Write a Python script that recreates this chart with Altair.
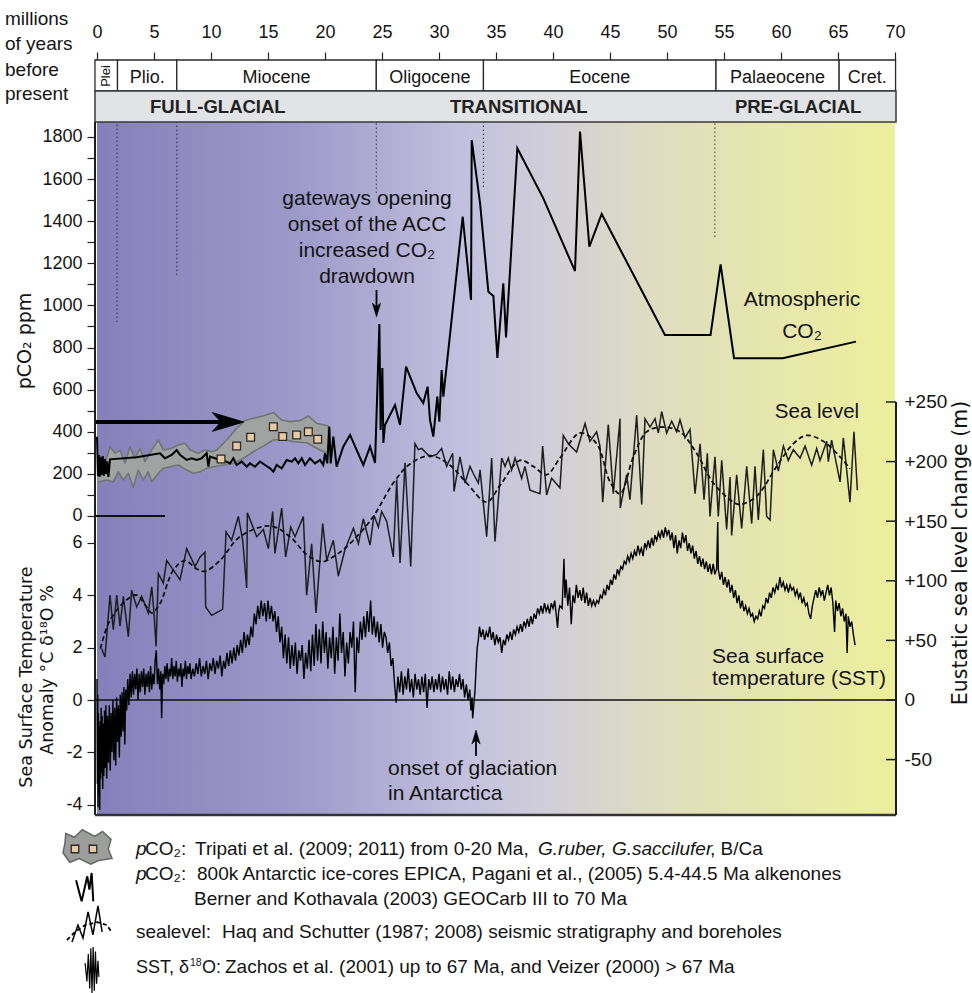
import altair as alt
import pandas as pd

# ---------------------------------------------------------------- data
x_ticks = list(range(0, 75, 5))
co2_ticks = list(range(0, 1900, 100))
sst_ticks = [-4, -2, 0, 2, 4, 6]
sl_ticks = [-50, 0, 50, 100, 150, 200, 250]

epoch_names = ["Plei", "Plio.", "Miocene", "Oligocene", "Eocene", "Palaeocene", "Cret."]
epoch_start = [-0.18, 1.8, 7.0, 24.5, 33.9, 54.3, 65.1]
epoch_end = [1.8, 7.0, 24.5, 33.9, 54.3, 65.1, 70.05]

phase_names = ["FULL-GLACIAL", "TRANSITIONAL", "PRE-GLACIAL"]
phase_mid = [10.6, 37.0, 61.5]

boundary_ma = [1.75, 7.0, 24.5, 33.9, 54.2]
boundary_end_ppm = [921, 1144, 1534, 1562, 1325]

co2_ma = [0.0, 0.08, 0.16, 0.24, 0.32, 0.40, 0.50, 0.60, 0.70, 0.80,
          0.90, 1.00, 1.14, 3.48, 5.53, 5.96, 6.55, 6.99, 7.28, 7.87,
          8.30, 8.74, 9.18, 9.62, 9.77, 9.91, 10.35, 10.79, 11.37, 11.67,
          11.96, 12.25, 12.69, 13.13, 13.42, 13.86, 14.30, 14.74, 15.18, 15.47,
          15.76, 16.20, 16.64, 17.08, 17.37, 17.66, 17.96, 18.25, 18.68, 19.12,
          19.56, 19.85, 20.00, 20.20, 20.38, 20.50, 20.73, 21.02, 21.60, 22.20,
          22.78, 23.36, 23.95, 24.39, 24.77, 24.88, 25.03, 25.12, 25.26, 26.14,
          26.58, 27.11, 28.04, 28.62, 29.00, 29.21, 29.50, 29.85, 30.03, 30.23,
          30.38, 32.08, 32.81, 32.87, 33.60, 34.33, 34.77, 35.12, 35.64, 35.88,
          36.87, 39.15, 41.93, 42.37, 43.19, 44.27, 49.82, 53.82, 54.70, 55.88,
          60.15, 66.58]
co2_ppm = [376, 190, 290, 185, 280, 195, 285, 190, 270, 200,
           260, 185, 269, 279, 298, 274, 290, 313, 290, 266,
           274, 266, 274, 298, 234, 282, 274, 266, 258, 250,
           274, 242, 258, 234, 250, 234, 258, 242, 226, 210,
           242, 226, 266, 258, 274, 250, 274, 242, 274, 250,
           266, 242, 298, 250, 424, 250, 377, 234, 329, 385,
           313, 242, 329, 252, 912, 408, 703, 347, 432, 527,
           432, 709, 584, 536, 614, 456, 377, 567, 448, 693,
           567, 1421, 1026, 1785, 1486, 1065, 1045, 751, 1105, 848,
           1746, 1508, 1163, 1825, 1279, 1434, 859, 859, 1195, 749,
           749, 828]

# Tripati et al. envelope (upper edge left->right, lower edge right->left)
tripati_ma = [0.12, 0.70, 1.14, 1.58, 2.02, 2.46, 2.89, 3.33, 3.77, 4.21,
              4.80, 5.38, 5.82, 6.55, 7.13, 7.72, 8.16, 8.89, 9.47, 10.06,
              10.50, 11.37, 12.25, 12.98, 13.71, 14.59, 15.47, 16.20, 16.93, 17.81,
              18.54, 19.27, 20.29,
              20.29, 19.56, 18.39, 17.22, 16.35, 15.47, 14.59, 13.71, 12.84, 11.96,
              11.08, 10.20, 9.62, 9.04, 8.45, 7.87, 7.13, 6.40, 5.82, 5.38,
              4.80, 4.50, 4.06, 3.62, 3.18, 2.75, 2.31, 1.87, 1.43, 0.85,
              0.12]
tripati_ppm = [234, 250, 329, 298, 313, 250, 329, 274, 321, 258,
               313, 361, 313, 321, 337, 345, 313, 298, 313, 305,
               313, 361, 416, 453, 464, 475, 491, 456, 448, 453,
               475, 440, 427,
               298, 313, 348, 353, 364, 361, 332, 305, 274, 250,
               242, 234, 226, 210, 203, 218, 242, 234, 226, 203,
               163, 210, 171, 218, 136, 203, 171, 210, 163, 171,
               163]
tripati_pt_ma = [10.88, 12.25, 13.48, 15.47, 16.29, 17.51, 18.54, 19.36]
tripati_pt_ppm = [271, 332, 374, 424, 377, 385, 400, 364]

sl_ma = [0.41, 0.70, 1.14, 1.43, 1.73, 2.02, 2.31, 2.75, 3.04, 3.48,
         3.92, 4.50, 4.80, 5.00, 5.18, 5.38, 5.82, 6.11, 6.70, 7.28,
         7.87, 8.60, 9.04, 9.47, 9.53, 10.06, 11.02, 11.32, 11.81, 12.40,
         12.78, 13.13, 13.19, 14.01, 14.59, 15.03, 15.41, 15.61, 16.20, 16.55,
         16.99, 17.37, 18.10, 18.39, 18.83, 19.21, 19.80, 20.15, 20.73, 21.17,
         21.75, 22.49, 22.93, 23.36, 23.95, 24.30, 24.68, 24.97, 25.41, 25.99,
         26.29, 26.58, 27.02, 27.52, 27.89, 28.19, 28.48, 29.21, 29.80, 30.23,
         30.67, 31.20, 31.32, 31.84, 32.28, 32.72, 33.01, 33.45, 33.60, 34.18,
         34.62, 34.91, 35.50, 35.79, 36.08, 36.37, 36.67, 37.25, 37.54, 37.98,
         38.86, 39.09, 39.44, 39.88, 40.61, 40.90, 41.34, 42.07, 42.81, 43.24,
         43.83, 44.12, 44.36, 44.85, 45.29, 45.88, 45.90, 46.46, 46.75, 47.34,
         47.78, 48.07, 48.51, 48.95, 49.24, 49.53, 49.97, 50.41, 50.85, 51.14,
         51.58, 52.02, 52.46, 52.90, 53.25, 53.54, 53.77, 54.21, 54.50, 54.80,
         55.23, 55.53, 55.67, 56.11, 56.55, 56.99, 57.43, 57.72, 58.01, 58.45,
         58.74, 59.04, 59.33, 59.77, 60.21, 60.64, 61.08, 61.67, 62.11, 62.69,
         63.13, 63.42, 64.01, 64.15, 64.44, 65.18, 65.47, 66.05, 66.40, 66.70]
sl_m = [43, 36, 88, 59, 88, 62, 87, 53, 92, 78,
        87, 73, 95, 73, 45, 106, 98, 117, 109, 101,
        127, 112, 120, 124, 78, 71, 76, 141, 134, 154,
        134, 94, 157, 137, 143, 127, 158, 123, 161, 120,
        145, 137, 154, 88, 131, 73, 148, 117, 134, 104,
        126, 144, 131, 152, 130, 155, 145, 158, 150, 120,
        185, 115, 199, 112, 215, 210, 211, 204, 206, 211,
        196, 207, 175, 204, 182, 196, 190, 182, 193, 137,
        203, 133, 203, 196, 203, 193, 203, 186, 196, 176,
        173, 213, 172, 186, 178, 222, 215, 208, 232, 217,
        225, 213, 166, 231, 173, 236, 161, 189, 168, 239,
        164, 236, 229, 236, 224, 242, 224, 234, 225, 235,
        220, 227, 173, 215, 168, 207, 154, 204, 154, 201,
        143, 187, 138, 189, 144, 196, 148, 196, 151, 210,
        154, 151, 210, 192, 213, 201, 210, 203, 213, 197,
        211, 201, 217, 200, 218, 183, 220, 166, 225, 176]

sl_trend_ma = [0.30, 1.14, 2.60, 3.48, 4.36, 4.80, 5.53, 6.70, 7.72, 8.74,
               9.47, 10.79, 12.54, 15.18, 16.93, 18.39, 19.71, 21.02, 22.49, 24.24,
               25.99, 27.46, 29.21, 30.96, 32.43, 34.18, 35.35, 37.10, 38.27, 39.44,
               40.61, 42.37, 43.83, 45.00, 45.88, 47.05, 48.22, 49.68, 51.14, 52.60,
               54.06, 55.82, 56.40, 57.87, 59.62, 61.08, 62.25, 63.71, 65.18, 66.05]
sl_trend_m = [43, 67, 84, 88, 78, 73, 81, 109, 117, 110,
              108, 117, 137, 146, 137, 122, 116, 122, 134, 154,
              182, 198, 205, 197, 182, 166, 180, 201, 196, 189,
              203, 224, 215, 183, 173, 204, 225, 229, 225, 207,
              182, 166, 164, 171, 196, 215, 222, 217, 204, 194]

sst_ma = [
    0.00, 0.03, 0.06, 0.09, 0.12, 0.16, 0.20, 0.24, 0.28, 0.32,
    0.36, 0.40, 0.45, 0.50, 0.55, 0.60, 0.66, 0.72, 0.78, 0.85,
    0.92, 1.00, 1.08, 1.16, 1.24, 1.32, 1.40, 1.48, 1.56, 1.64,
    1.72, 1.80, 1.88, 1.96, 2.04, 2.12, 2.20, 2.28, 2.36, 2.44,
    2.52, 2.60, 2.70, 2.80, 2.90, 3.00, 3.10, 3.20, 3.30, 3.40,
    3.50, 3.60, 3.70, 3.80, 3.90, 4.00, 4.10, 4.20, 4.30, 4.40,
    4.50, 4.60, 4.70, 4.80, 4.90, 5.00, 5.10, 5.20, 5.30, 5.40,
    5.50, 5.60, 5.67, 5.75, 5.85, 5.95, 6.05, 6.15, 6.25, 6.35,
    6.45, 6.55, 6.65, 6.75, 6.85, 6.95, 7.05, 7.15, 7.25, 7.35,
    7.45, 7.55, 7.65, 7.75, 7.85, 7.95, 8.05, 8.15, 8.25, 8.40,
    8.55, 8.70, 8.85, 9.00, 9.15, 9.30, 9.45, 9.60, 9.75, 9.90,
    10.05, 10.20, 10.35, 10.50, 10.65, 10.80, 10.95, 11.10, 11.25, 11.40,
    11.55, 11.70, 11.85, 12.00, 12.15, 12.30, 12.45, 12.60, 12.75, 12.90,
    13.05, 13.20, 13.35, 13.50, 13.65, 13.80, 13.95, 14.10, 14.25, 14.40,
    14.55, 14.70, 14.85, 15.00, 15.15, 15.30, 15.45, 15.60, 15.75, 15.90,
    16.05, 16.20, 16.35, 16.50, 16.65, 16.80, 16.95,
    17.10, 17.25, 17.40, 17.55, 17.70, 17.85, 18.00, 18.15, 18.30, 18.45,
    18.60, 18.75, 18.90, 19.05, 19.20, 19.35, 19.50, 19.65, 19.80, 19.95,
    20.10, 20.25, 20.40, 20.55, 20.70, 20.85, 21.00, 21.15, 21.30, 21.45,
    21.60, 21.75, 21.90, 22.05, 22.20, 22.35, 22.50, 22.65, 22.80, 22.95,
    23.10, 23.25, 23.40, 23.55, 23.70, 23.85, 24.00, 24.15, 24.30, 24.45,
    24.60, 24.75, 24.90, 25.05, 25.20, 25.35, 25.50, 25.65, 25.80, 25.95,
    26.10, 26.25, 26.40, 26.55, 26.70, 26.85, 27.00, 27.15, 27.30, 27.45,
    27.60, 27.75, 27.90, 28.05, 28.20, 28.35, 28.50, 28.65, 28.80, 28.95,
    29.10, 29.25, 29.40, 29.55, 29.70, 29.85, 30.00, 30.15, 30.30, 30.45,
    30.60, 30.75, 30.90, 31.05, 31.20, 31.35, 31.50, 31.65, 31.80, 31.95,
    32.10, 32.25, 32.40, 32.55, 32.70, 32.80, 32.90, 32.95, 33.05, 33.15,
    33.25, 33.35, 33.45, 33.55,
    33.70, 33.85, 34.00, 34.15, 34.30, 34.45, 34.60, 34.75, 34.90, 35.05,
    35.20, 35.35, 35.50, 35.65, 35.80, 35.95, 36.10, 36.25, 36.40, 36.55,
    36.70, 36.85, 37.00, 37.15, 37.30, 37.45, 37.60, 37.75, 37.90, 38.05,
    38.20, 38.35, 38.50, 38.65, 38.80, 38.95, 39.10, 39.25, 39.40, 39.55,
    39.70, 39.85, 40.00, 40.15, 40.30, 40.40, 40.50, 40.60, 40.80, 40.96,
    41.05, 41.15, 41.30, 41.45, 41.60, 41.75, 41.90, 42.05, 42.20, 42.35,
    42.50, 42.65, 42.80, 42.95, 43.10, 43.25, 43.40, 43.55, 43.70, 43.85,
    44.00, 44.15, 44.30, 44.45, 44.60, 44.75, 44.90, 45.05, 45.20, 45.35,
    45.50, 45.65, 45.80, 45.95, 46.10, 46.25, 46.40, 46.55, 46.70, 46.85,
    47.00, 47.15, 47.30, 47.45, 47.60, 47.75, 47.90,
    48.05, 48.20, 48.35, 48.50, 48.65, 48.80, 48.95, 49.10, 49.25, 49.40,
    49.55, 49.70, 49.85, 50.00, 50.15, 50.30, 50.45, 50.60, 50.75, 50.90,
    51.05, 51.20, 51.35, 51.50, 51.65, 51.80, 51.95, 52.10, 52.25, 52.40,
    52.55, 52.70, 52.85, 53.00, 53.15, 53.30, 53.45, 53.60, 53.75, 53.90,
    54.05, 54.20, 54.35, 54.45, 54.50, 54.65, 54.80, 54.95,
    55.10, 55.25, 55.40, 55.55, 55.70, 55.85, 56.00, 56.15, 56.30, 56.45,
    56.60, 56.75, 56.90, 57.05, 57.20, 57.35, 57.50, 57.65, 57.80, 57.95,
    58.10, 58.25, 58.40, 58.55, 58.70, 58.85, 59.00, 59.15, 59.30, 59.45,
    59.60, 59.75, 59.90, 60.05, 60.20, 60.35, 60.50, 60.65, 60.80, 60.95,
    61.10, 61.25, 61.40, 61.55, 61.70, 61.85, 62.00, 62.15, 62.30, 62.45,
    62.60, 62.75, 62.90, 63.05, 63.20, 63.35, 63.50, 63.65, 63.80, 63.95,
    64.10, 64.25, 64.40, 64.55, 64.70, 64.80, 64.95, 65.10, 65.25, 65.40,
    65.55, 65.70, 65.80, 65.90, 66.05, 66.20, 66.35, 66.50]
sst_c = [
    0.8, -3.2, 0.2, -4.1, -0.5, -3.6, -1.0, -4.2, -0.8, -3.0,
    -0.3, -2.8, -0.6, -3.4, -0.9, -2.9, -0.4, -2.6, -0.2, -3.0,
    -0.6, -2.4, -0.2, -2.7, -0.5, -2.0, 0.0, -2.3, -0.3, -2.5,
    0.1, -1.6, -0.2, -2.2, 0.2, -1.4, 0.3, -1.2, 0.5, -1.7,
    0.4, -0.4, 0.8, -0.2, 1.0, 0.1, 1.1, 0.2, 1.0, 0.4,
    1.2, 0.0, 1.0, 0.3, 1.1, 0.5, 1.2, 0.2, 1.0, 0.5,
    1.1, 0.3, 1.3, 0.4, 1.0, 0.6, 1.5, 1.9, 0.6, 1.2,
    0.4, 1.1, -0.7, 1.0, 0.6, 1.3, 0.8, 1.4, 0.7, 1.2,
    0.9, 1.6, 0.8, 1.3, 0.9, 1.5, 0.7, 1.2, 0.9, 1.4,
    0.5, 1.2, 0.9, 1.5, 0.8, 1.3, 1.0, 1.4, 0.8, 1.2,
    0.9, 1.4, 1.0, 1.6, 0.9, 1.3, 1.0, 1.5, 0.8, 1.4,
    1.1, 1.6, 1.0, 1.5, 1.2, 1.7, 0.9, 1.5, 1.2, 1.8,
    1.3, 1.9, 1.4, 2.0, 1.5, 2.1, 1.7, 2.3, 1.8, 2.6,
    2.0, 2.5, 2.1, 2.8, 2.4, 3.3, 2.9, 3.6, 3.1, 3.8,
    3.2, 3.7, 3.0, 3.8, 3.1, 3.6, 3.0, 3.4, 2.6, 3.2,
    2.2, 2.8, 1.6, 2.5, 1.4, 2.4, 1.2,
    2.1, 1.3, 2.2, 1.0, 1.9, 1.5, 2.1, 0.8, 1.8, 1.2,
    2.3, 1.1, 2.5, 1.3, 2.9, 1.5, 2.7, 1.4, 3.0, 1.8,
    2.6, 1.2, 2.4, 1.6, 2.8, 1.0, 2.4, 1.5, 3.3, 1.8,
    2.6, 0.9, 2.2, 1.4, 2.6, 2.0, 3.0, 0.3, 2.4, 1.8,
    3.0, 2.3, 3.2, 2.4, 3.4, 2.6, 3.8, 2.5, 3.2, 2.4,
    3.0, 2.2, 2.9, 2.0, 2.6, 2.4, 1.8, 2.2, 1.3, 1.6,
    0.6, -0.1, 0.9, 0.3, 1.1, 0.2, 0.9, 0.4, 1.2, 0.3,
    0.8, 0.1, 1.0, 0.4, 0.8, 0.2, 0.9, 0.3, 1.0, -0.3,
    0.8, 0.4, 0.9, 0.3, 0.8, 0.4, 1.0, 0.3, 0.9, 0.4,
    0.8, 0.2, 1.1, 0.4, 0.9, 0.3, 0.8, 0.5, 1.0, 0.4,
    0.8, 0.1, 0.6, 0.0, 0.4, -0.4, 0.1, -0.7, -0.2, 0.3,
    1.2, 2.0, 2.3, 2.8,
    2.4, 2.7, 2.3, 2.6, 2.4, 2.8, 2.3, 2.6, 2.1, 2.5,
    2.2, 2.4, 1.8, 2.3, 2.1, 2.5, 2.3, 2.6, 2.3, 2.7,
    2.5, 2.8, 2.6, 2.9, 2.6, 3.0, 2.8, 3.1, 2.8, 3.2,
    2.9, 3.3, 3.1, 3.5, 3.3, 3.6, 3.3, 3.7, 3.4, 3.6,
    3.3, 3.7, 3.5, 3.8, 3.2, 2.75, 3.4, 3.6, 3.5, 5.4,
    3.9, 4.6, 3.6, 4.3, 2.9, 4.0, 3.7, 4.4, 3.9, 4.2,
    3.8, 4.3, 3.7, 4.1, 3.6, 3.9, 3.6, 3.8, 3.6, 3.8,
    3.7, 4.0, 3.9, 4.2, 4.0, 4.4, 4.2, 4.6, 4.4, 4.8,
    4.6, 5.0, 4.8, 5.1, 5.0, 5.3, 5.2, 5.5, 5.3, 5.6,
    5.4, 5.7, 5.5, 5.9, 5.6, 5.8, 5.5,
    6.0, 5.8, 6.1, 5.8, 6.2, 5.9, 6.3, 6.1, 6.4, 6.2,
    6.5, 6.2, 6.6, 6.3, 6.5, 6.1, 6.4, 5.8, 6.3, 5.6,
    6.1, 5.8, 6.4, 6.0, 6.3, 5.7, 6.0, 5.6, 5.9, 5.4,
    5.7, 5.2, 5.5, 5.1, 5.4, 5.0, 5.3, 4.9, 5.2, 4.8,
    5.2, 4.8, 5.0, 6.8, 5.0, 4.6, 4.9, 4.4,
    4.7, 4.3, 4.6, 4.1, 4.4, 3.9, 4.2, 3.7, 4.0, 3.5,
    3.8, 3.4, 3.6, 3.3, 3.5, 3.2, 3.3, 3.0, 3.2, 3.1,
    3.4, 3.2, 3.6, 3.5, 3.9, 3.7, 4.1, 3.9, 4.3, 4.1,
    4.4, 4.2, 4.7, 4.3, 4.5, 4.2, 4.4, 4.1, 4.4, 4.2,
    4.3, 4.0, 4.2, 3.9, 4.1, 3.7, 3.9, 3.6, 3.7, 3.3,
    3.1, 3.6, 3.9, 4.2, 3.9, 4.3, 4.0, 4.2, 3.8, 4.1,
    4.4, 4.0, 4.3, 3.7, 2.6, 3.8, 3.4, 3.7, 3.2, 3.5,
    3.0, 3.3, 1.8, 3.2, 2.8, 3.0, 2.5, 2.1]

# ---------------------------------------------------------------- layout
W, H = 798, 755
SANS = "Liberation Sans, Arial, sans-serif"
WIDE = "DejaVu Sans, Verdana, sans-serif"
INK = "#141414"

XS = alt.Scale(domain=[0, 70], nice=False, zero=False)
CO2S = alt.Scale(domain=[-1419.8, 2165.2], nice=False, zero=False)
SSTS = alt.Scale(domain=[-4.394, 24.456], nice=False, zero=False)
SLS = alt.Scale(domain=[-96.48, 536.9], nice=False, zero=False)

XAXIS = alt.Axis(orient="top", values=x_ticks, tickSize=8, tickWidth=1.2, tickColor="#222",
                 domain=False, grid=False, labelFont=SANS, labelFontSize=18, labelColor=INK,
                 labelPadding=11, labelAngle=0, title=None, labelFlush=False)


def X(field):
    return alt.X(field, type="quantitative", scale=XS, axis=XAXIS)


def Y(field, scale, axis=None):
    return alt.Y(field, type="quantitative", scale=scale, axis=axis)


def label(text, x, y, size=18, font=SANS, align="left", angle=0, weight="normal",
          style="normal", color=INK, baseline="alphabetic"):
    return alt.Chart().mark_text(text=text, font=font, fontSize=size, align=align,
                                 baseline=baseline, angle=angle, fontWeight=weight,
                                 fontStyle=style, color=color).encode(
        x=alt.value(x), y=alt.value(y))


def icon(path, x, y, size, **kw):
    props = dict(shape=path, size=size, opacity=1)
    props.update(kw)
    return alt.Chart().mark_point(**props).encode(x=alt.value(x), y=alt.value(y))


one = pd.DataFrame({"a": [0]})
epochs = pd.DataFrame({"name": epoch_names, "start": epoch_start, "end": epoch_end})
phases = pd.DataFrame({"name": phase_names, "mid": phase_mid})
bounds = pd.DataFrame({"ma": boundary_ma, "end": boundary_end_ppm})
co2 = pd.DataFrame({"ma": co2_ma, "ppm": co2_ppm})
trip = pd.DataFrame({"ma": tripati_ma, "ppm": tripati_ppm, "i": list(range(len(tripati_ma)))})
trip_pts = pd.DataFrame({"ma": tripati_pt_ma, "ppm": tripati_pt_ppm})
sl = pd.DataFrame({"ma": sl_ma, "m": sl_m})
slt = pd.DataFrame({"ma": sl_trend_ma, "m": sl_trend_m})
sst = pd.DataFrame({"ma": sst_ma, "c": sst_c})
slticks = pd.DataFrame({"m": sl_ticks})

layers = []

# background gradient
grad = alt.Gradient(gradient="linear", x1=0, x2=1, y1=0, y2=0, stops=[
    alt.GradientStop(color="#8580ba", offset=0.0),
    alt.GradientStop(color="#9d99c9", offset=0.25),
    alt.GradientStop(color="#c3c0df", offset=0.46),
    alt.GradientStop(color="#d1cfd8", offset=0.57),
    alt.GradientStop(color="#dddbc4", offset=0.68),
    alt.GradientStop(color="#e5e5b0", offset=0.82),
    alt.GradientStop(color="#edef9c", offset=1.0)])
layers.append(alt.Chart().mark_rect(fill=grad).encode(
    x=alt.value(0), x2=alt.value(W), y=alt.value(62), y2=alt.value(H)))

# header: epochs and glacial phases
layers.append(alt.Chart(epochs).mark_rect(fill="white", stroke="#2a2a2a", strokeWidth=1.3).encode(
    x=X("start"), x2="end", y=alt.value(0), y2=alt.value(31)))
layers.append(alt.Chart(epochs).transform_filter("datum.name != 'Plei'").transform_calculate(
    mid="(datum.start + datum.end) / 2").mark_text(
    font=SANS, fontSize=18, color=INK, baseline="alphabetic").encode(
    x=X("mid:Q"), y=alt.value(23), text="name:N"))
layers.append(alt.Chart(epochs).transform_filter("datum.name == 'Plei'").transform_calculate(
    mid="(datum.start + datum.end) / 2").mark_text(
    font=SANS, fontSize=13, color=INK, angle=270, baseline="middle").encode(
    x=X("mid:Q"), y=alt.value(16), text="name:N"))
layers.append(alt.Chart().mark_rect(fill="#e1e3e5", stroke="#3a3a3a", strokeWidth=1.5).encode(
    x=alt.value(-2), x2=alt.value(W + 1), y=alt.value(31), y2=alt.value(62)))
layers.append(alt.Chart(phases).mark_text(font=SANS, fontSize=18.5, fontWeight="bold",
                                          color="#222", baseline="alphabetic").encode(
    x=X("mid"), y=alt.value(53), text="name:N"))

# dotted boundary lines
layers.append(alt.Chart(bounds).mark_rule(stroke="#333", strokeWidth=1, strokeDash=[1.5, 2.5]).encode(
    x=X("ma"), y=Y("end", CO2S), y2=alt.value(62)))

# SST zero line
layers.append(alt.Chart(one).transform_calculate(z="0").mark_rule(stroke="#111", strokeWidth=1.3).encode(
    y=Y("z:Q", SSTS), x=alt.value(-2), x2=alt.value(W + 1)))
# CO2 zero stub
layers.append(alt.Chart(one).transform_calculate(z="0").mark_rule(stroke="#111", strokeWidth=1.8).encode(
    y=Y("z:Q", CO2S), x=alt.value(-2), x2=alt.value(68)))

# Tripati band
layers.append(alt.Chart(trip).mark_line(fill="#a0a3a1", stroke="#737573", strokeWidth=1.6,
                                        strokeJoin="round").encode(
    x=X("ma"), y=Y("ppm", CO2S), order="i:Q"))

# big arrow
layers.append(alt.Chart(one).mark_rule(stroke="black", strokeWidth=4).encode(
    x=alt.value(-2), x2=alt.value(124), y=alt.value(362)))
layers.append(icon("M 1 0 L -1 -0.6 L -0.45 0 L -1 0.6 Z", 131, 362, 961,
                   filled=True, fill="black", stroke="black", strokeWidth=1))

# CO2 line
co2_axis = alt.Axis(orient="left", values=co2_ticks, format="d",
                    labelExpr="datum.value % 200 == 0 ? datum.label : ''",
                    tickSize=8, tickWidth=1.2, tickColor="#222", offset=2, domain=False, grid=False,
                    labelFont=SANS, labelFontSize=18, labelColor=INK, labelPadding=5, title=None)
layers.append(alt.Chart(co2).mark_line(stroke="black", strokeWidth=2, strokeJoin="miter").encode(
    x=X("ma"), y=Y("ppm", CO2S, co2_axis)))
layers.append(alt.Chart(trip_pts).mark_square(size=60, fill="#e9c9a1", stroke="#2a2a2a",
                                              strokeWidth=1.3, opacity=1).encode(
    x=X("ma"), y=Y("ppm", CO2S)))

# sea level
sl_axis = alt.Axis(orient="right", values=sl_ticks, ticks=False, domain=False, grid=False,
                   labelExpr="datum.value > 0 ? '+' + datum.value : '' + datum.value",
                   labelFont=SANS, labelFontSize=19, labelColor=INK, labelPadding=9, title=None)
layers.append(alt.Chart(sl).mark_line(stroke="#1e1e1e", strokeWidth=1.5).encode(
    x=X("ma"), y=Y("m", SLS, sl_axis)))
layers.append(alt.Chart(slt).mark_line(stroke="#111", strokeWidth=1.8, strokeDash=[5, 3],
                                       interpolate="catmull-rom").encode(
    x=X("ma"), y=Y("m", SLS)))

# SST
sst_axis = alt.Axis(orient="left", values=sst_ticks, labelExpr="'' + datum.value",
                    tickSize=8, tickWidth=1.2, tickColor="#222", offset=2, domain=False, grid=False,
                    labelFont=SANS, labelFontSize=18, labelColor=INK, labelPadding=5, title=None)
layers.append(alt.Chart(sst).mark_line(stroke="black", strokeWidth=1.4).encode(
    x=X("ma"), y=Y("c", SSTS, sst_axis)))

# frame lines
layers.append(alt.Chart(one).mark_rule(stroke="#1e1e1e", strokeWidth=2).encode(
    x=alt.value(-2), y=alt.value(62), y2=alt.value(H)))
layers.append(alt.Chart(one).mark_rule(stroke="#333", strokeWidth=2.5).encode(
    x=alt.value(-2), x2=alt.value(W + 1), y=alt.value(H)))
layers.append(alt.Chart(one).transform_calculate(z="250").mark_rule(stroke="#1e1e1e", strokeWidth=2).encode(
    x=alt.value(W + 1), y=Y("z:Q", SLS), y2=alt.value(H)))
layers.append(alt.Chart(slticks).mark_rule(stroke="#1e1e1e", strokeWidth=1.5).encode(
    x=alt.value(W - 9), x2=alt.value(W + 1), y=Y("m", SLS)))

# annotations
for t, yy in [("gateways opening", 145), ("onset of the ACC", 171),
              ("increased CO\u2082", 197), ("drawdown", 223)]:
    layers.append(label(t, 270, yy, size=21, align="center"))
layers.append(alt.Chart(one).mark_rule(stroke="black", strokeWidth=1.8).encode(
    x=alt.value(279.5), y=alt.value(230), y2=alt.value(250)))
layers.append(icon("M 0 1 L -0.6 -1 L 0 -0.45 L 0.6 -1 Z", 279.5, 250, 196,
                   filled=True, fill="black", stroke="black", strokeWidth=0.5))

layers.append(label("Atmospheric", 705, 246, size=21, align="center"))
layers.append(label("CO\u2082", 705, 278, size=21, align="center"))
layers.append(label("Sea level", 720, 358, size=20.5, align="center"))
layers.append(label("Sea surface", 615, 603, size=21))
layers.append(label("temperature (SST)", 615, 625, size=21))
layers.append(label("onset of glaciation", 291, 715, size=21))
layers.append(label("in Antarctica", 291, 740, size=21))
layers.append(alt.Chart(one).mark_rule(stroke="black", strokeWidth=1.8).encode(
    x=alt.value(379), y=alt.value(676), y2=alt.value(696)))
layers.append(icon("M 0 -1 L -0.6 1 L 0 0.45 L 0.6 1 Z", 379, 677, 196,
                   filled=True, fill="black", stroke="black", strokeWidth=0.5))

# axis titles
layers.append(label("pCO\u2082  ppm", -66, 281, size=19, font=WIDE, align="center", angle=270))
layers.append(label("Sea Surface Temperature", -65, 617, size=17.5, font=WIDE, align="center", angle=270))
layers.append(label("Anomaly \u00b0C  \u03b4\u00b9\u2078O %", -44, 610, size=17.5, font=WIDE,
                    align="center", angle=270))
layers.append(label("Eustatic sea level change (m)", 870, 493, size=20.5, font=WIDE,
                    align="center", angle=270))

# top-left caption
for t, yy in [("millions", -35), ("of years", -10), ("before", 16), ("present", 40)]:
    layers.append(label(t, -92, yy, size=19))

# legend
LF = 19
layers.append(icon("M -0.85 -0.5 L -0.5 -0.35 L -0.19 -0.65 L 0.31 -0.38 L 0.62 -0.58 L 0.96 -0.27 "
                   "L 0.85 0.12 L 1 0.5 L 0.46 0.58 L 0.15 0.73 L -0.31 0.5 L -0.69 0.65 "
                   "L -0.96 0.27 L -0.88 -0.12 Z", -10, 786, 2500,
                   filled=True, fill="#9c9e9c", stroke="#666", strokeWidth=1.5))
for xx in (-22, -4):
    layers.append(icon("square", xx, 789, 56, filled=True, fill="#e9c9a1",
                       stroke="#2a2a2a", strokeWidth=1.3))
layers.append(icon("M -0.53 -0.51 L -0.16 0.89 L 0.22 -0.78 L 0.36 0.11 L 0.51 -1 L 0.62 0.89",
                   -13, 828, 900, filled=False, stroke="black", strokeWidth=2))
layers.append(icon("M -0.74 0.7 L -0.48 -0.04 L -0.26 0.52 L -0.04 -0.61 L 0.17 0.39 L 0.39 -0.87 "
                   "L 0.57 0.26", -8, 866, 2116, filled=False, stroke="black", strokeWidth=1.5))
layers.append(icon("M -0.96 0.61 L -0.61 0.26 L -0.17 -0.04 L 0.35 -0.17 L 0.78 -0.04 L 1 0.3",
                   -8, 866, 2116, filled=False, stroke="black", strokeWidth=1.8, strokeDash=[4, 3]))
layers.append(icon("M -0.3 -0.3 L -0.22 0.5 L -0.16 -0.7 L -0.1 0.8 L -0.05 -0.95 L 0 1 "
                   "L 0.05 -1 L 0.1 0.9 L 0.15 -0.8 L 0.2 0.6 L 0.26 -0.4 L 0.3 0.3",
                   -5, 910, 2116, filled=False, stroke="black", strokeWidth=1.2))

layers.append(label("p", 39, 795, size=LF, style="italic"))
layers.append(label("CO\u2082:", 48, 795, size=LF))
layers.append(label("Tripati et al. (2009; 2011) from 0-20 Ma,", 98, 795, size=LF))
layers.append(label("G.ruber, G.saccilufer", 441, 795, size=LF, style="italic"))
layers.append(label(", B/Ca", 613, 795, size=LF))
layers.append(label("p", 39, 820, size=LF, style="italic"))
layers.append(label("CO\u2082:", 48, 820, size=LF))
layers.append(label("800k Antarctic ice-cores EPICA, Pagani et al., (2005) 5.4-44.5 Ma alkenones",
                    100, 820, size=LF))
layers.append(label("Berner and Kothavala (2003) GEOCarb III to 70 Ma", 97, 845, size=LF))
layers.append(label("sealevel:", 39, 878, size=LF))
layers.append(label("Haq and Schutter (1987; 2008) seismic stratigraphy and boreholes", 125, 878,
                    size=LF))
layers.append(label("SST, \u03b4", 39, 913, size=18))
layers.append(label("18", 93, 906, size=10.5))
layers.append(label("O:", 105, 913, size=18))
layers.append(label("Zachos et al. (2001) up to 67 Ma, and Veizer (2000) > 67 Ma", 128, 913,
                    size=LF))

chart = alt.layer(*layers, data=one).resolve_scale(y="independent").properties(
    width=W, height=H, autosize="none", background="white",
    padding={"left": 97, "top": 60, "right": 77, "bottom": 178}
).configure_view(stroke=None)

chart.save("out.html", embed_options={"renderer": "svg", "actions": False})
